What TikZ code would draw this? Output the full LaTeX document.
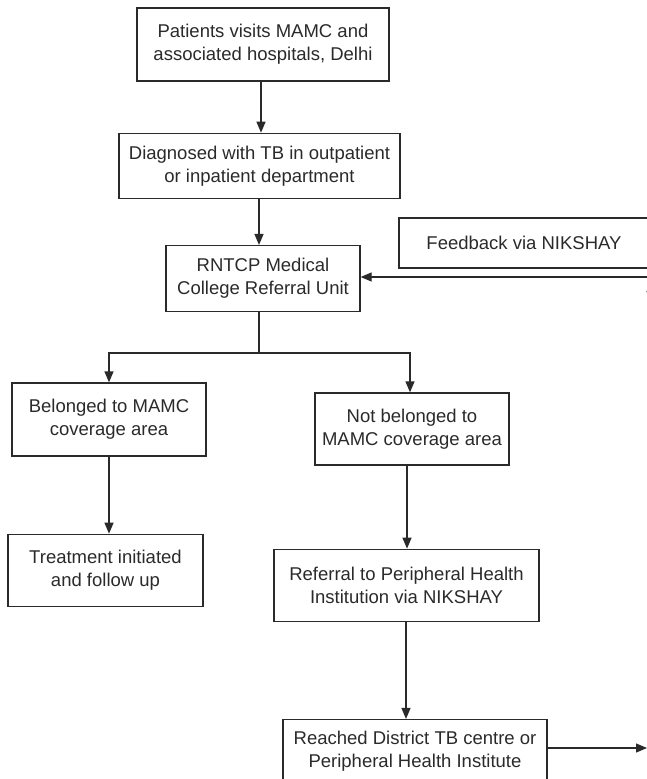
\documentclass[tikz,border=0pt]{standalone}
\usepackage{fontspec}
\setmainfont{Liberation Sans}
\usepackage{tikz}
\usetikzlibrary{positioning,arrows.meta}
\definecolor{ink}{HTML}{2A2A2A}

\begin{document}
\begin{tikzpicture}[
    x=1pt, y=-1pt, color=ink, line width=1.3pt,
    box/.style = {draw, inner sep=0pt, align=center,
                  font=\fontsize{18.5}{23}\selectfont},
    > = {Triangle[length=11pt, width=9pt]}
]
\clip (0,0) rectangle (647,779);

\node (pat) [box, minimum width=252pt, minimum height=73pt] at (263,44.5) {Patients visits MAMC and\\ associated hospitals, Delhi};
\node (diag) [box, minimum width=281pt, minimum height=65pt, below=51pt of pat, xshift=-3.5pt] {Diagnosed with TB in outpatient\\ or inpatient department};
\node (rntcp) [box, minimum width=194pt, minimum height=66pt, below=46pt of diag, xshift=3.5pt] {RNTCP Medical\\ College Referral Unit};
\node (feed) [box, minimum width=250pt, minimum height=50pt] at (524,243) {Feedback via NIKSHAY};

\node (bel) [box, minimum width=194pt, minimum height=73pt] at (109,419.5) {Belonged to MAMC\\ coverage area};
\node (notbel) [box, minimum width=194pt, minimum height=72pt] at (412,429) {Not belonged to\\ MAMC coverage area};
\node (treat) [box, minimum width=195pt, minimum height=72pt, below=77pt of bel, xshift=-3.5pt] {Treatment initiated\\ and follow up};
\node (refer) [box, minimum width=265pt, minimum height=72pt, below=83pt of notbel, xshift=-5.5pt] {Referral to Peripheral Health\\ Institution via NIKSHAY};
\node (reach) [box, minimum width=264pt, minimum height=63pt, below=97pt of refer, xshift=8.5pt] {Reached District TB centre or\\ Peripheral Health Institute};

\coordinate (split) at (259,353);
\coordinate (fbin) at (660,277);
\coordinate (out) at (647,748);
\coordinate (upfrom) at (651,330);
\coordinate (upto) at (651,281);

\draw[->] (pat.south -| 261,0) -- (diag.north -| 261,0);
\draw[->] (diag.south -| split) -- (rntcp.north -| split);
\draw[-] (rntcp.south -| split) -- (split);
\draw[->] (split) -| (bel.north);
\draw[->] (split) -| ([xshift=-2pt]notbel.north);
\draw[->] (bel.south) -- (bel.south |- treat.north);
\draw[->] ([xshift=-5pt]notbel.south) -- ([xshift=-5pt]notbel.south |- refer.north);
\draw[->] ([xshift=-0.5pt]refer.south) -- ([xshift=-0.5pt]refer.south |- reach.north);
\draw[->] (reach.east |- out) -- (out);
\draw[->] (fbin) -- (fbin -| rntcp.east);
\draw[->] (upfrom) -- (upto);
\end{tikzpicture}
\end{document}
